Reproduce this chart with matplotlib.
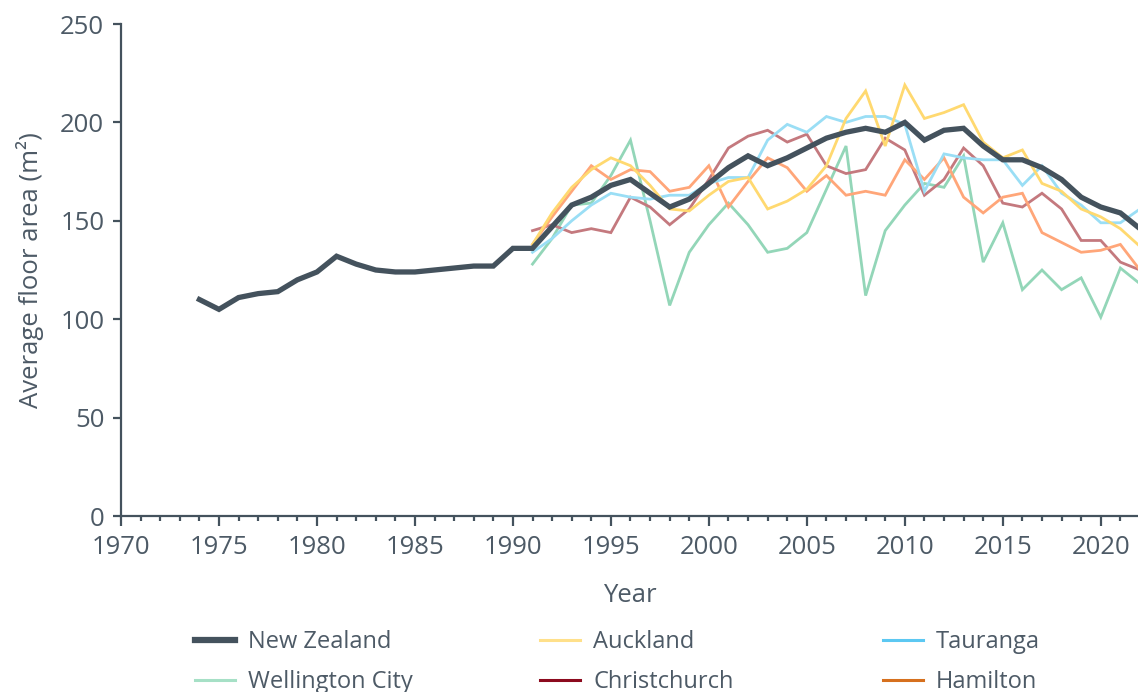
import matplotlib.pyplot as plt
from matplotlib.lines import Line2D
from matplotlib.ticker import MultipleLocator

plt.rcParams['font.family'] = ['Open Sans', 'DejaVu Sans']

# national series
nz_years = list(range(1974, 2023))
nz_area = [110, 105, 111, 113, 114, 120, 124, 132, 128, 125, 124, 124, 125, 126, 127, 127,
           136, 136, 147, 158, 162, 168, 171, 164, 157, 161,
           169, 177, 183, 178, 182, 187, 192, 195, 197, 195,
           200, 191, 196, 197, 188, 181, 181, 177, 171, 162,
           157, 154, 146]

# regional series
city_years = list(range(1991, 2023))
auckland = [138, 154, 167, 176, 182, 178, 168, 156, 155, 163,
            170, 172, 156, 160, 166, 178, 202, 216, 188, 219,
            202, 205, 209, 190, 182, 186, 169, 165, 156, 152,
            146, 137]
tauranga = [134, 141, 150, 158, 164, 162, 161, 163, 163, 169,
            172, 172, 191, 199, 195, 203, 200, 203, 203, 199,
            165, 184, 182, 181, 181, 168, 178, 164, 158, 149,
            149, 156]
wellington = [128, 141, 158, 159, 173, 191, 150, 107, 134, 148,
              159, 148, 134, 136, 144, 166, 188, 112, 145, 158,
              169, 167, 183, 129, 149, 115, 125, 115, 121, 101,
              126, 118]
christchurch = [145, 148, 144, 146, 144, 162, 157, 148, 156, 171,
                187, 193, 196, 190, 194, 178, 174, 176, 192, 186,
                163, 171, 187, 178, 159, 157, 164, 156, 140, 140,
                129, 125]
hamilton = [138, 152, 165, 178, 171, 176, 175, 165, 167, 178,
            157, 170, 182, 177, 165, 173, 163, 165, 163, 181,
            171, 182, 162, 154, 162, 164, 144, 139, 134, 135,
            138, 125]

txt = '#4d5a66'
dark = '#44525d'

fig = plt.figure(figsize=(11.38, 6.92), dpi=100)
ax = fig.add_axes([121 / 1138, 176 / 692, 1017 / 1138, 492 / 692])

# (data, line colour, legend colour)
cities = {
    'Wellington City': (wellington, '#93d6b8', '#a6e0c6'),
    'Christchurch': (christchurch, '#c4797e', '#8c0a1e'),
    'Hamilton': (hamilton, '#ffa679', '#d6701e'),
    'Tauranga': (tauranga, '#9adef5', '#5cc8f2'),
    'Auckland': (auckland, '#ffd970', '#ffe08a'),
}
for name, (vals, c, _) in cities.items():
    ax.plot(city_years, vals, color=c, lw=2.0, solid_joinstyle='miter')
ax.plot(nz_years, nz_area, color=dark, lw=3.8, solid_joinstyle='miter')

ax.set_xlim(1970, 2021.9)
ax.set_ylim(0, 250)
ax.xaxis.set_major_locator(MultipleLocator(5))
ax.xaxis.set_minor_locator(MultipleLocator(1))
ax.yaxis.set_major_locator(MultipleLocator(50))

for s in ['top', 'right']:
    ax.spines[s].set_visible(False)
for s in ['left', 'bottom']:
    ax.spines[s].set_color(dark)
    ax.spines[s].set_linewidth(1.6)
ax.tick_params(axis='both', which='major', colors=dark, labelcolor=txt,
               labelsize=18.5, width=1.6, length=6, pad=6)
ax.tick_params(axis='x', which='major', length=7, pad=7)
ax.tick_params(axis='x', which='minor', colors=dark, width=1.6, length=3.5)

ax.set_ylabel('Average floor area (m²)', fontsize=18.5, color=txt, labelpad=12)
ax.set_xlabel('Year', fontsize=18.5, color=txt, fontweight='medium', labelpad=16)

# legend, three columns placed separately
def h(c, lw=2.2):
    return Line2D([0], [0], color=c, lw=lw)

columns = [
    (195, [(h(dark, 4.5), 'New Zealand'), (h(cities['Wellington City'][2]), 'Wellington City')]),
    (540, [(h(cities['Auckland'][2]), 'Auckland'), (h(cities['Christchurch'][2]), 'Christchurch')]),
    (883, [(h(cities['Tauranga'][2]), 'Tauranga'), (h(cities['Hamilton'][2]), 'Hamilton')]),
]
for x0, items in columns:
    leg = fig.legend([i[0] for i in items], [i[1] for i in items],
                     loc='upper left', bbox_to_anchor=(x0 / 1138, (692 - 630) / 692),
                     frameon=False, fontsize=17, borderpad=0, borderaxespad=0,
                     handlelength=1.7, handletextpad=0.55, labelspacing=0.68,
                     labelcolor=txt)

fig.savefig('out.png', dpi=100)
